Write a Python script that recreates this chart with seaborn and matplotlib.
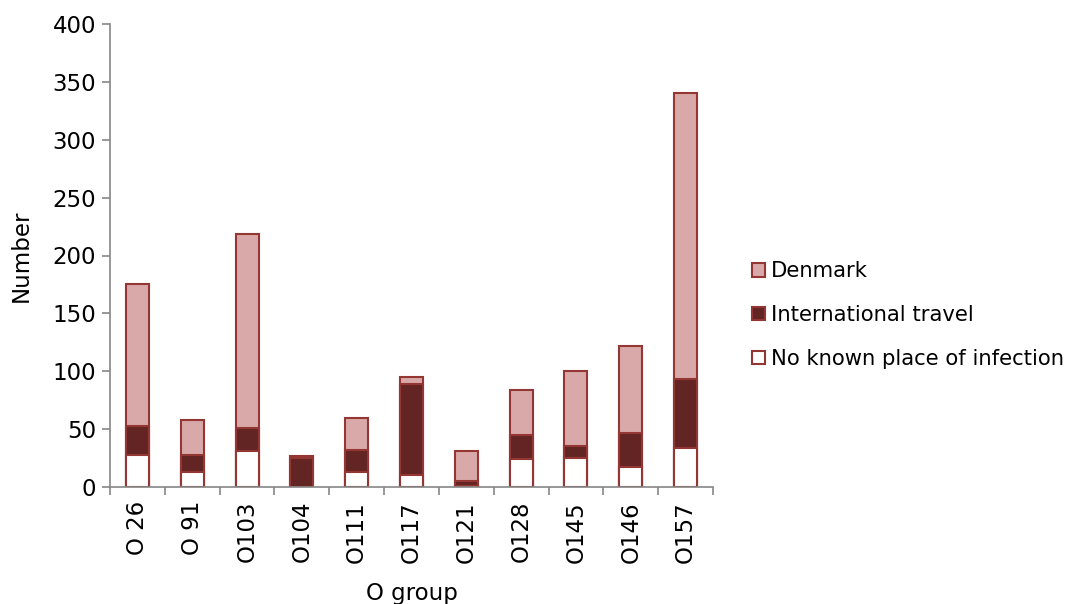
import matplotlib
matplotlib.use("Agg")
import matplotlib.pyplot as plt
import numpy as np
import pandas as pd
import seaborn as sns
from matplotlib.patches import Patch

groups = ["O 26", "O 91", "O103", "O104", "O111", "O117", "O121", "O128", "O145", "O146", "O157"]
no_known = [28, 13, 31, 0, 13, 10, 1, 24, 25, 17, 34]
travel = [25, 15, 20, 25, 19, 79, 4, 21, 10, 30, 59]
denmark = [122, 30, 168, 2, 28, 6, 26, 39, 65, 75, 247]

df = pd.DataFrame({"group": groups, "none": no_known, "travel": travel, "denmark": denmark})
df["lvl1"] = df["none"]
df["lvl2"] = df["none"] + df["travel"]
df["lvl3"] = df["lvl2"] + df["denmark"]

c_dk = "#D9A9A9"
c_tr = "#632523"
c_none = "#FFFFFF"
edge = "#943634"
grey = "#868686"

sns.set_style("white")
plt.rcParams["font.family"] = ["DejaVu Sans"]
plt.rcParams["text.color"] = "black"
plt.rcParams["xtick.color"] = "black"
plt.rcParams["ytick.color"] = "black"
plt.rcParams["axes.labelcolor"] = "black"

fig = plt.figure(figsize=(10.86, 6.04), dpi=100)
ax = fig.add_axes([110 / 1086, 1 - 487 / 604, (713 - 110) / 1086, (487 - 24) / 604])

# stacked bars: draw cumulative totals back to front
common = dict(x="group", order=groups, width=0.42, edgecolor=edge, linewidth=1.5,
              saturation=1, ax=ax)
sns.barplot(data=df, y="lvl3", color=c_dk, **common)
sns.barplot(data=df, y="lvl2", color=c_tr, **common)
sns.barplot(data=df, y="lvl1", color=c_none, **common)

ax.set_ylim(0, 400)
ax.set_xlim(-0.5, len(groups) - 0.5)
ax.set_yticks(np.arange(0, 401, 50))
ax.tick_params(axis="y", labelsize=16.5, length=6, direction="out", color=grey, width=1.2,
               left=True, pad=4, labelcolor="black")

ax.set_xticks(np.arange(len(groups)))
ax.set_xticklabels(groups, rotation=90, fontsize=16.5)
ax.tick_params(axis="x", length=0, pad=10, labelcolor="black")
ax.set_xticks(np.arange(len(groups) + 1) - 0.5, minor=True)
ax.tick_params(axis="x", which="minor", length=6, direction="out", color=grey, width=1.2, bottom=True)

for s in ["top", "right"]:
    ax.spines[s].set_visible(False)
for s in ["left", "bottom"]:
    ax.spines[s].set_color(grey)
    ax.spines[s].set_linewidth(1.2)

ax.set_xlabel("O group", fontsize=16.5, labelpad=14, color="black")
ax.set_ylabel("Number", fontsize=16.5, labelpad=14, color="black")

handles = [
    Patch(facecolor=c_dk, edgecolor=edge, linewidth=1.5, label="Denmark"),
    Patch(facecolor=c_tr, edgecolor=edge, linewidth=1.5, label="International travel"),
    Patch(facecolor=c_none, edgecolor=edge, linewidth=1.5, label="No known place of infection"),
]
fig.legend(handles=handles, loc="center left", bbox_to_anchor=(752 / 1086, 1 - 315 / 604),
           frameon=False, fontsize=15.2, handlelength=0.6, handleheight=0.6, handletextpad=0.3,
           labelspacing=1.12, borderaxespad=0, borderpad=0, labelcolor="black")

fig.savefig("out.png", dpi=100)
